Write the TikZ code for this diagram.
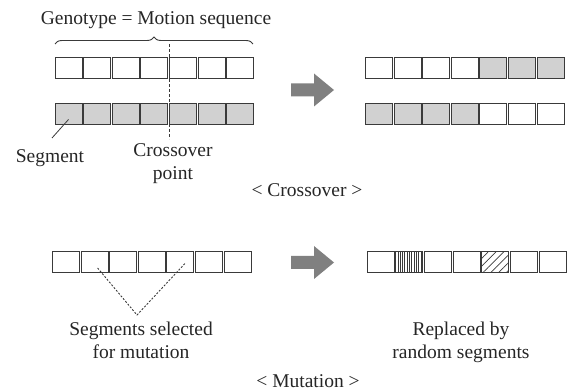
\documentclass[tikz,border=0pt]{standalone}
\usepackage{fontspec}
\setmainfont{Liberation Serif}
\usetikzlibrary{decorations.pathreplacing,patterns.meta}
\definecolor{edge}{HTML}{3A3A3A}
\definecolor{segfill}{HTML}{D1D1D1}
\definecolor{arrowgray}{HTML}{808080}
\begin{document}
\begin{tikzpicture}[x=1pt,y=-1pt,
  cell/.style={draw=edge,line width=1pt,minimum width=27pt,minimum height=21pt,inner sep=0pt,anchor=west},
  graycell/.style={cell,fill=segfill},
  lbl/.style={font=\fontsize{19.5}{23}\selectfont,inner sep=0pt,align=center,anchor=base,text=black!85},
  bigarrow/.style={fill=arrowgray},
  leader/.style={draw=edge,line width=0.8pt},
  cutline/.style={draw=edge,line width=0.9pt,dash pattern=on 3pt off 2pt},
  pickline/.style={draw=edge,line width=0.9pt,dash pattern=on 2pt off 1.6pt}]
\useasboundingbox (0,0) rectangle (576,390);
% crossover, parents
\foreach \i in {1,...,7} {
  \node[cell] (a\i) at ({54.5+(\i-1)*28.6},68.5) {};
  \node[graycell] (b\i) at ({54.5+(\i-1)*28.6},114.5) {};
}
% crossover, children
\foreach \i in {1,...,4} {
  \node[cell] (c\i) at ({365+(\i-1)*28.6},68.5) {};
  \node[graycell] (d\i) at ({365+(\i-1)*28.6},114.5) {};
}
\foreach \i in {5,6,7} {
  \node[graycell] (c\i) at ({365+(\i-1)*28.6},68.5) {};
  \node[cell] (d\i) at ({365+(\i-1)*28.6},114.5) {};
}
% brace and crossover point
\draw[edge,line width=0.9pt,decorate,decoration={brace,amplitude=7pt}] (55,44) -- (253,44);
\coordinate (cptop) at (169.5,44);
\coordinate (cpbot) at (169.5,139);
\draw[cutline] (cptop) -- (cpbot);
\coordinate (seglead) at (52,138);
\draw[leader] (seglead) -- ([shift={(0,5)}]b1.center);
% arrows
\fill[bigarrow] (291,83.5) -- (314,83.5) -- (314,73.5) -- (334,90) -- (314,106.5) -- (314,96.5) -- (291,96.5) -- cycle;
\fill[bigarrow] (291,256) -- (314,256) -- (314,246) -- (334,262.5) -- (314,279) -- (314,269) -- (291,269) -- cycle;
% mutation
\foreach \i in {1,...,7} {
  \node[cell] (m\i) at ({52+(\i-1)*28.6},262.5) {};
}
\foreach \i in {1,3,4,6,7} {
  \node[cell] (r\i) at ({367+(\i-1)*28.6},262.5) {};
}
\node[cell,pattern={Lines[angle=90,distance=2.3pt,line width=0.7pt]},pattern color=edge] (r2) at ({367+28.6},262.5) {};
\node[cell,pattern={Lines[angle=45,distance=5.5pt,line width=0.7pt]},pattern color=edge] (r5) at ({367+4*28.6},262.5) {};
\coordinate (vtip) at (137,315);
\draw[pickline] ([shift={(3,5.5)}]m2.center) -- (vtip) -- ([shift={(5,0.5)}]m5.center);
% labels
\node[lbl] (geno) at (156,25) {Genotype = Motion sequence};
\node[lbl] (seg) at (50,163) {Segment};
\node[lbl] (cp) at (173,180) {Crossover\\point};
\node[lbl] (xo) at (307,197) {< Crossover >};
\node[lbl] (sel) at (141,358) {Segments selected\\for mutation};
\node[lbl] (rep) at (461,358) {Replaced by\\random segments};
\node[lbl] (mu) at (308,387) {< Mutation >};
\end{tikzpicture}
\end{document}
